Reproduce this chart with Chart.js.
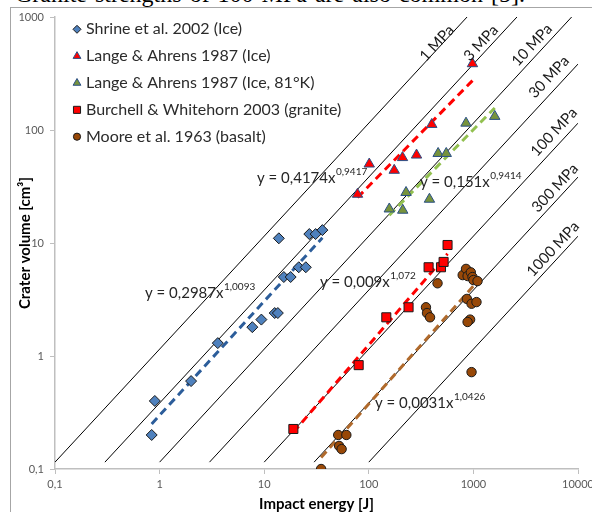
<!DOCTYPE html>
<html>
<head>
<meta charset="utf-8">
<script src="https://cdn.jsdelivr.net/npm/chart.js@4.4.1/dist/chart.umd.min.js"></script>
<style>
  html, body { margin: 0; padding: 0; background: #fff; overflow: hidden; }
  #wrap { position: relative; width: 592px; height: 512px; overflow: hidden; }
  #caption { position: absolute; left: 15px; top: -19px; font: 24px "Liberation Serif", serif; color: #000; white-space: nowrap; word-spacing: 2px; }
  #frame { position: absolute; left: 10px; top: 7px; width: 640px; height: 600px; border: 1px solid #a6a6a6; box-sizing: border-box; }
  canvas { position: absolute; left: 0; top: 0; }
</style>
</head>
<body>
<div id="wrap">
  <div id="caption">Granite strengths of 100 MPa are also common [5].</div>
  <div id="frame"></div>
  <canvas id="chart" width="592" height="512"></canvas>
</div>
<script>
// 🔥 data (impact energy [J], crater volume [cm³])
const shrineE = [0.84, 0.9, 2.0, 3.6, 7.7, 9.4, 12.6, 13.5, 13.8, 27, 31, 36, 21.4, 25, 15.4, 17.9];
const shrineV = [0.2, 0.4, 0.6, 1.3, 1.8, 2.1, 2.4, 2.4, 11, 12, 12, 13, 6.1, 6.1, 5.0, 5.0];

const langeE = [78, 101, 175, 210, 286, 400, 980];
const langeV = [27, 50, 44, 57, 60, 112, 386];

const lange81E = [157, 211, 227, 380, 460, 550, 850, 1600];
const lange81V = [20, 19.5, 28, 24.4, 62, 62, 115, 132];

const burchellE = [19, 80, 147, 240, 373, 490, 519, 566];
const burchellV = [0.226, 0.83, 2.2, 2.7, 6.1, 6.1, 6.8, 9.6];

const mooreE = [35, 51, 61, 52, 55, 352, 360, 385, 454, 790, 850, 880, 945, 980, 1000, 1095, 867, 960, 1070, 930, 880, 960];
const mooreV = [0.1, 0.2, 0.2, 0.16, 0.15, 2.7, 2.4, 2.2, 4.4, 5.2, 5.9, 5.1, 5.5, 5.0, 4.7, 4.6, 3.2, 2.9, 3.0, 2.1, 2.0, 0.72];

const seriesLabels = [
  "Shrine et al. 2002 (Ice)",
  "Lange & Ahrens 1987 (Ice)",
  "Lange & Ahrens 1987 (Ice, 81°K)",
  "Burchell & Whitehorn 2003 (granite)",
  "Moore et al. 1963 (basalt)"
];

// power-law trend lines y = a·x^b (as printed on the chart)
const trendA = [0.2987, 0.4174, 0.151, 0.009, 0.0031];
const trendB = [1.0093, 0.9417, 0.9414, 1.072, 1.0426];
const trendText = [
  ["y = 0,2987x", "1,0093"],
  ["y = 0,4174x", "0,9417"],
  ["y = 0,151x", "0,9414"],
  ["y = 0,009x", "1,072"],
  ["y = 0,0031x", "1,0426"]
];

// strength lines V = E / σ
const stressMPa = [1, 3, 10, 30, 100, 300, 1000];
const stressText = ["1 MPa", "3 MPa", "10 MPa", "30 MPa", "100 MPa", "300 MPa", "1000 MPa"];
const lineShift = 1.15; // lines in the source sit a bit above E/σ

const xTicks = [0.1, 1, 10, 100, 1000, 10000];
const yTicks = [0.1, 1, 10, 100, 1000];

// 🔥 styles
const styles = [
  { pointStyle: "rectRot", radius: 5.5, legendRadius: 4, fill: "#4f81bd", border: "#1a1a1a", trend: "#2c5d9a" },
  { pointStyle: "triangle", radius: 6, legendRadius: 4.5, fill: "#ff0000", border: "#2a4f86", trend: "#ff0000" },
  { pointStyle: "triangle", radius: 6, legendRadius: 4.5, fill: "#77933c", border: "#2a4f86", trend: "#92c050" },
  { pointStyle: "rect", radius: 6.4, legendRadius: 5, fill: "#ff0000", border: "#1a1a1a", trend: "#ff0000" },
  { pointStyle: "circle", radius: 4.7, legendRadius: 3.6, fill: "#984807", border: "#1a1a1a", trend: "#b06a2c" }
];

const pts = (xs, ys) => xs.map((x, i) => ({ x: x, y: ys[i] }));
const allE = [shrineE, langeE, lange81E, burchellE, mooreE];
const allV = [shrineV, langeV, lange81V, burchellV, mooreV];

const datasets = [];

// markers (drawn on top)
allE.forEach((es, i) => {
  datasets.push({
    label: seriesLabels[i],
    data: pts(es, allV[i]),
    pointStyle: styles[i].pointStyle,
    pointRadius: styles[i].radius,
    pointBackgroundColor: styles[i].fill,
    pointBorderColor: styles[i].border,
    pointBorderWidth: 1,
    showLine: false
  });
});

// trend lines
allE.forEach((es, i) => {
  const lo = Math.min(...es), hi = Math.max(...es);
  datasets.push({
    label: "trend",
    data: [lo, hi].map(e => ({ x: e, y: trendA[i] * Math.pow(e, trendB[i]) })),
    showLine: true,
    borderColor: styles[i].trend,
    borderWidth: 3,
    borderDash: [8, 5],
    pointRadius: 0
  });
});

// strength lines
stressMPa.forEach(s => {
  datasets.push({
    label: "stress",
    data: [0.1 * s, 10000].map(e => ({ x: e, y: lineShift * e / s })),
    showLine: true,
    borderColor: "#000",
    borderWidth: 1,
    pointRadius: 0
  });
});

// 🔥 legend + equations + MPa labels
const eqAt = [[145, 293], [257, 178], [420, 182], [320, 282], [375, 403]];
const mpaAt = [[437, 43], [481, 43], [532, 45], [549, 77], [554, 132], [555, 188], [553, 249]];

const overlay = {
  id: "overlay",
  afterDatasetsDraw(chart) {
    const ctx = chart.ctx;
    ctx.save();

    // legend
    seriesLabels.forEach((lab, i) => {
      const y = 29.3 + i * 26.85;
      ctx.fillStyle = styles[i].fill;
      ctx.strokeStyle = styles[i].border;
      ctx.lineWidth = 1;
      Chart.helpers.drawPoint(ctx, { pointStyle: styles[i].pointStyle, radius: styles[i].legendRadius, rotation: 0, borderWidth: 1 }, 77, y);
      ctx.fillStyle = "#2b2b2b";
      ctx.font = "16px Lato";
      ctx.textAlign = "left";
      ctx.textBaseline = "middle";
      ctx.fillText(lab, 86, y);
    });

    // equations
    trendText.forEach((t, i) => {
      const [x, y] = eqAt[i];
      ctx.fillStyle = "#262626";
      ctx.textBaseline = "middle";
      ctx.font = "15px Lato";
      ctx.fillText(t[0], x, y);
      const w = ctx.measureText(t[0]).width;
      ctx.font = "10px Lato";
      ctx.fillText(t[1], x + w + 0.5, y - 6);
    });

    // MPa labels
    ctx.font = "15px Lato";
    ctx.fillStyle = "#1a1a1a";
    ctx.textAlign = "center";
    stressText.forEach((t, i) => {
      ctx.save();
      ctx.translate(mpaAt[i][0], mpaAt[i][1]);
      ctx.rotate(-47 * Math.PI / 180);
      ctx.fillText(t, 0, 0);
      ctx.restore();
    });

    ctx.restore();
  }
};

const fmt = v => String(v).replace(".", ",");

new Chart(document.getElementById("chart"), {
  type: "scatter",
  data: { datasets: datasets },
  options: {
    responsive: false,
    animation: false,
    layout: { padding: { top: 17, right: 14, left: 0, bottom: 0 } },
    plugins: { legend: { display: false }, tooltip: { enabled: false } },
    scales: {
      x: {
        type: "logarithmic",
        min: 0.1, max: 10000,
        afterBuildTicks: s => { s.ticks = xTicks.map(v => ({ value: v })); },
        afterFit: s => { s.height = 43; s.paddingLeft = 0; s.paddingRight = 0; },
        ticks: { callback: v => fmt(v), font: { family: "Lato", size: 11 }, color: "#595959", padding: 4, maxRotation: 0, autoSkip: false },
        grid: { drawOnChartArea: false, tickLength: 5, color: "#bfbfbf" },
        border: { color: "#bfbfbf", width: 1.5 },
        title: { display: true, text: "Impact energy [J]", font: { family: "Lato", size: 15, weight: "bold", lineHeight: 1 }, color: "#000", padding: 0 }
      },
      y: {
        type: "logarithmic",
        min: 0.1, max: 1000,
        afterBuildTicks: s => { s.ticks = yTicks.map(v => ({ value: v })); },
        afterFit: s => { s.width = 55; s.paddingTop = 0; s.paddingBottom = 0; },
        ticks: { callback: v => fmt(v), font: { family: "Lato", size: 11 }, color: "#595959", padding: 6, autoSkip: false },
        grid: { drawOnChartArea: false, tickLength: 5, color: "#bfbfbf" },
        border: { color: "#bfbfbf", width: 1.5 },
        title: { display: true, text: "Crater volume [cm³]", font: { family: "Lato", size: 15, weight: "bold", lineHeight: 1 }, color: "#000", padding: { top: 18 } }
      }
    }
  },
  plugins: [overlay]
});
</script>
</body>
</html>
